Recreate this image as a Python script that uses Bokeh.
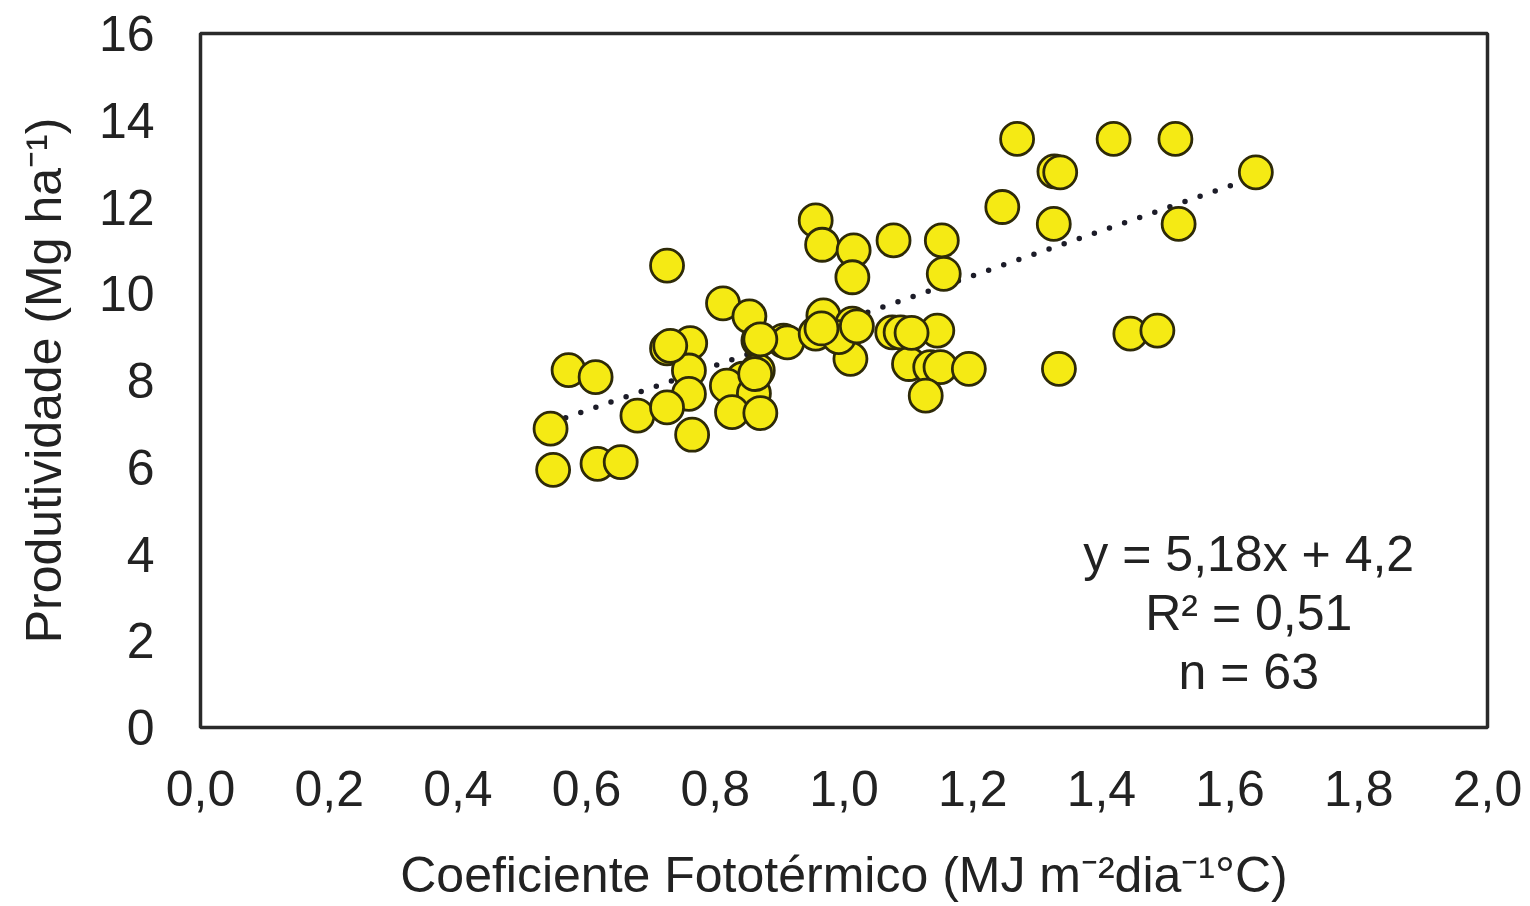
from bokeh.plotting import figure
from bokeh.models import Range1d, FixedTicker, Label
from bokeh.embed import file_html
from bokeh.resources import INLINE

# Photothermal coefficient (MJ m-2 day-1 °C) and yield (Mg ha-1)
coef_fototermico = [
    0.544, 0.548, 0.572, 0.614, 0.617, 0.653, 0.679, 0.725, 0.725, 0.761,
    0.759, 0.759, 0.725, 0.764, 0.812, 0.853, 0.867, 0.906, 0.866, 0.843,
    0.818, 0.860, 0.826, 0.870, 0.912, 0.956, 0.966, 1.015, 1.013, 0.968,
    0.956, 1.013, 1.010, 1.077, 1.152, 1.155, 1.246, 1.326, 1.520, 1.075,
    1.088, 1.145, 1.101, 1.134, 1.150, 1.194, 1.127, 1.334, 1.445, 1.487,
    1.269, 1.419, 1.515, 1.327, 1.336, 1.640, 0.992, 0.730, 0.862, 0.965,
    1.020, 1.105, 0.870,
]
produtividade = [
    6.89, 5.94, 8.24, 8.08, 6.08, 6.12, 7.19, 10.65, 8.74, 8.86,
    8.23, 7.69, 7.38, 6.75, 9.78, 9.48, 8.92, 8.92, 8.23, 8.04,
    7.88, 7.70, 7.27, 7.25, 8.88, 11.69, 11.13, 11.00, 10.38, 9.50,
    9.08, 9.31, 8.50, 11.23, 11.23, 10.46, 12.00, 11.61, 11.61, 9.11,
    9.11, 9.15, 8.38, 8.31, 8.31, 8.27, 7.65, 8.27, 9.08, 9.15,
    13.57, 13.57, 13.57, 12.82, 12.80, 12.80, 9.00, 8.80, 8.15, 9.20,
    9.25, 9.10, 8.95,
]

# Linear fit reported on the chart
slope = 5.18
intercept = 4.2
r2 = 0.51

x_ticks = [0.0, 0.2, 0.4, 0.6, 0.8, 1.0, 1.2, 1.4, 1.6, 1.8, 2.0]
x_tick_labels = ["0,0", "0,2", "0,4", "0,6", "0,8", "1,0", "1,2", "1,4", "1,6", "1,8", "2,0"]
y_ticks = [0, 2, 4, 6, 8, 10, 12, 14, 16]

FONT = "Liberation Sans"
INK = "#222222"

p = figure(
    width=1530, height=906,
    x_range=Range1d(0, 2.0), y_range=Range1d(0, 16),
    output_backend="svg", toolbar_location=None,
    min_border_left=200, min_border_right=43,
    min_border_top=33, min_border_bottom=179,
)
p.background_fill_color = "white"
p.border_fill_color = "white"
p.outline_line_color = "#2a2a2a"
p.outline_line_width = 3.5
p.grid.visible = False

for ax in (p.xaxis[0], p.yaxis[0]):
    ax.axis_line_color = None
    ax.major_tick_line_color = None
    ax.minor_tick_line_color = None
    ax.major_label_text_font = FONT
    ax.major_label_text_font_size = "50px"
    ax.major_label_text_color = INK
    ax.axis_label_text_font = FONT
    ax.axis_label_text_font_size = "50px"
    ax.axis_label_text_font_style = "normal"
    ax.axis_label_text_color = INK

p.xaxis.ticker = FixedTicker(ticks=x_ticks)
p.xaxis.major_label_overrides = {t: lab for t, lab in zip(x_ticks, x_tick_labels)}
p.xaxis.major_label_standoff = 37
p.xaxis.axis_label = "Coeficiente Fototérmico (MJ m⁻²dia⁻¹°C)"
p.xaxis.axis_label_standoff = 38

p.yaxis.ticker = FixedTicker(ticks=y_ticks)
p.yaxis.major_label_standoff = 40
p.yaxis.axis_label = "Produtividade (Mg ha⁻¹)"
p.yaxis.axis_label_standoff = 24

# Trend line from the fitted equation over the observed x span
x0, x1 = min(coef_fototermico), max(coef_fototermico)
p.line([x0, x1], [slope * x0 + intercept, slope * x1 + intercept],
       line_color="#1c1c28", line_width=5.5, line_dash="0 16", line_cap="round")

p.scatter(coef_fototermico, produtividade, size=33, marker="circle",
          fill_color="#F5EA14", line_color="#2E2A08", line_width=2.8)

eq_lines = [
    ("y = 5,18x + 4,2", 4.01),
    ("R² = 0,51", 2.65),
    ("n = 63", 1.27),
]
for txt, yy in eq_lines:
    p.add_layout(Label(x=1.629, y=yy, text=txt, text_align="center",
                       text_baseline="middle", text_font=FONT,
                       text_font_size="50px", text_color=INK))

open("out.html", "w").write(file_html(p, INLINE))
